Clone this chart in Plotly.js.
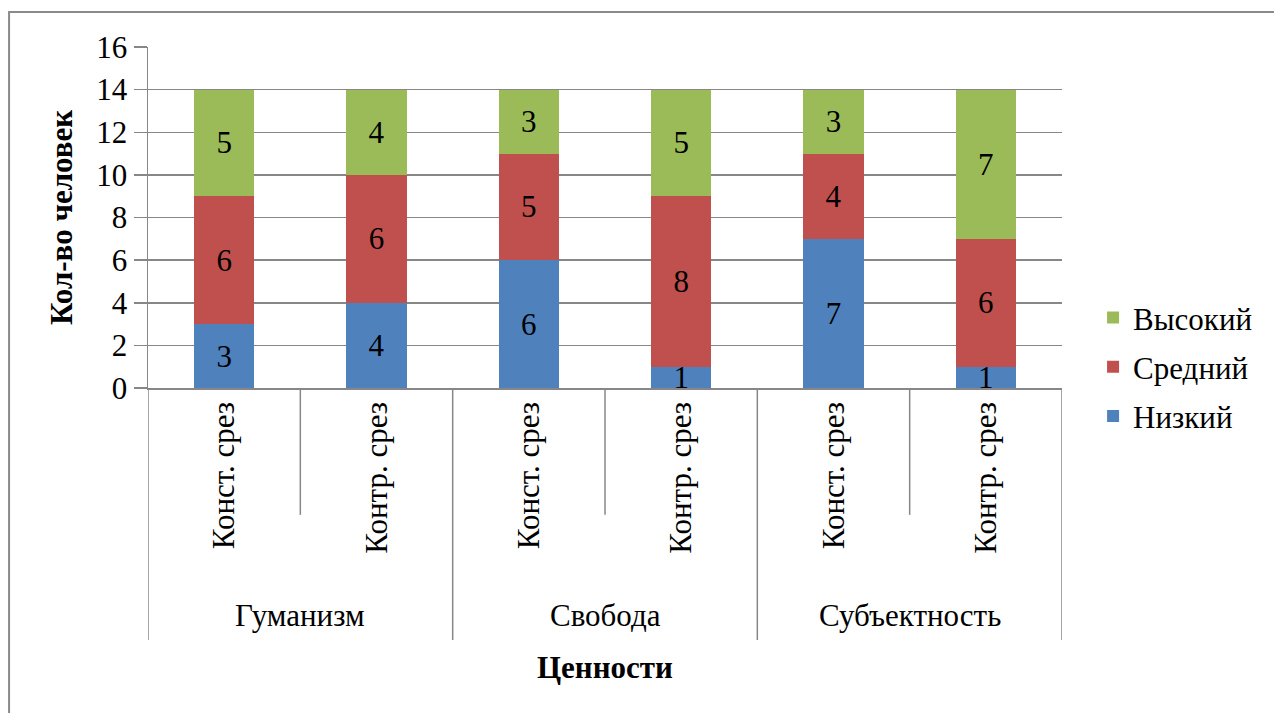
<!DOCTYPE html>
<html>
<head>
<meta charset="utf-8">
<script src="https://cdn.plot.ly/plotly-3.0.1.min.js"></script>
<style>
  html, body { margin: 0; padding: 0; background: #fff; overflow: hidden; }
  #chart { width: 1274px; height: 713px; }
  #chart text { font-family: 'Liberation Serif', serif !important; font-weight: 400 !important; font-style: normal !important; font-variant: normal !important; font-stretch: normal !important; }
</style>
</head>
<body>
<div id="chart"></div>
<script>
// ---- data ----
const groups = ["Гуманизм", "Свобода", "Субъектность"];
const subLabels = ["Конст. срез", "Контр. срез", "Конст. срез", "Контр. срез", "Конст. срез", "Контр. срез"];
const lowValues = [3, 4, 6, 1, 7, 1];      // Низкий
const midValues = [6, 6, 5, 8, 4, 6];      // Средний
const highValues = [5, 4, 3, 5, 3, 7];     // Высокий
const seriesNames = ["Низкий", "Средний", "Высокий"];
const seriesColors = ["#4F81BD", "#C0504D", "#9BBB59"];
const yTickValues = [0, 2, 4, 6, 8, 10, 12, 14, 16];
const yTitle = "Кол-во человек";
const xTitle = "Ценности";

// ---- build ----
const FONT = "Liberation Serif";
const FS = 31;
const reg = s => '<span style="font-family:Liberation Serif;font-weight:400;font-style:normal">' + s + '</span>';
const xs = subLabels.map((_, i) => i);
const gridColor = "#878787";

const mk = (vals, k) => ({
  type: "bar",
  x: xs,
  y: vals,
  name: reg(seriesNames[k]),
  legendgroup: "g" + k,
  legendrank: 3 - k,
  marker: { color: seriesColors[k], line: { width: 0 } },
  text: vals.map(v => reg(String(v))),
  textposition: "inside",
  insidetextanchor: "middle",
  textangle: 0,
  constraintext: "none",
  textfont: { family: FONT, size: FS, color: "#000" },
  hoverinfo: "y"
});

const traces = [mk(lowValues, 0), mk(midValues, 1), mk(highValues, 2)];

const perGroup = subLabels.length / groups.length;
const shapes = [];
for (let g = 0; g <= groups.length; g++) {
  const xb = g * perGroup - 0.5;
  shapes.push({ type: "line", xref: "x", yref: "paper", x0: xb, x1: xb, y0: 0, y1: -0.739,
    line: { color: gridColor, width: 1.5 } });
}
for (let g = 0; g < groups.length; g++) {
  for (let s = 1; s < perGroup; s++) {
    const xb = g * perGroup + s - 0.5;
    shapes.push({ type: "line", xref: "x", yref: "paper", x0: xb, x1: xb, y0: 0, y1: -0.372,
      line: { color: gridColor, width: 1.5 } });
  }
}
shapes.push({ type: "rect", xref: "paper", yref: "paper", x0: -0.152, x1: 1.5, y0: -1.5, y1: 1.103,
  line: { color: "#8a8a8a", width: 2 }, fillcolor: "rgba(0,0,0,0)", layer: "below" });

const annotations = groups.map((g, i) => ({
  text: reg(g), xref: "x", yref: "paper", x: i * perGroup + (perGroup - 1) / 2, y: -0.666,
  showarrow: false, font: { family: FONT, size: FS, color: "#000" }, yanchor: "middle"
}));
annotations.push({
  text: "<b>" + xTitle + "</b>", xref: "paper", yref: "paper", x: 0.5, y: -0.821,
  showarrow: false, font: { family: FONT, size: FS, color: "#000" }, yanchor: "middle"
});

const layout = {
  width: 1274, height: 713,
  margin: { l: 148, r: 212, t: 47, b: 325 },
  paper_bgcolor: "#fff", plot_bgcolor: "#fff",
  font: { family: FONT, size: FS, color: "#000" },
  barmode: "stack",
  bargap: 0.606,
  showlegend: true,
  legend: {
    traceorder: "grouped",
    x: 1.034, xanchor: "left", y: 0.062, yanchor: "middle",
    font: { family: FONT, size: FS, color: "#000" },
    itemwidth: 30, tracegroupgap: 6
  },
  xaxis: {
    range: [-0.5, subLabels.length - 0.5],
    tickmode: "array", tickvals: xs, ticktext: subLabels.map(reg),
    tickangle: -90,
    tickfont: { family: FONT, size: FS, color: "#000" },
    showgrid: false, zeroline: false,
    showline: true, linecolor: gridColor, linewidth: 1.5,
    ticks: "", automargin: false, fixedrange: true
  },
  yaxis: {
    range: [0, 16],
    tickmode: "array", tickvals: yTickValues, ticktext: yTickValues.map(v => reg(String(v))),
    tickfont: { family: FONT, size: FS, color: "#000" },
    showgrid: true, gridcolor: gridColor, gridwidth: 1.5,
    zeroline: false,
    showline: true, linecolor: gridColor, linewidth: 1.5,
    ticks: "outside", ticklen: 13, tickcolor: gridColor, tickwidth: 1.5,
    title: { text: "<b>" + yTitle + "</b>", font: { family: FONT, size: FS, color: "#000" }, standoff: 14 },
    automargin: false, fixedrange: true
  },
  shapes: shapes,
  annotations: annotations
};

Plotly.newPlot("chart", traces, layout, { displayModeBar: false, staticPlot: true });
</script>
</body>
</html>
